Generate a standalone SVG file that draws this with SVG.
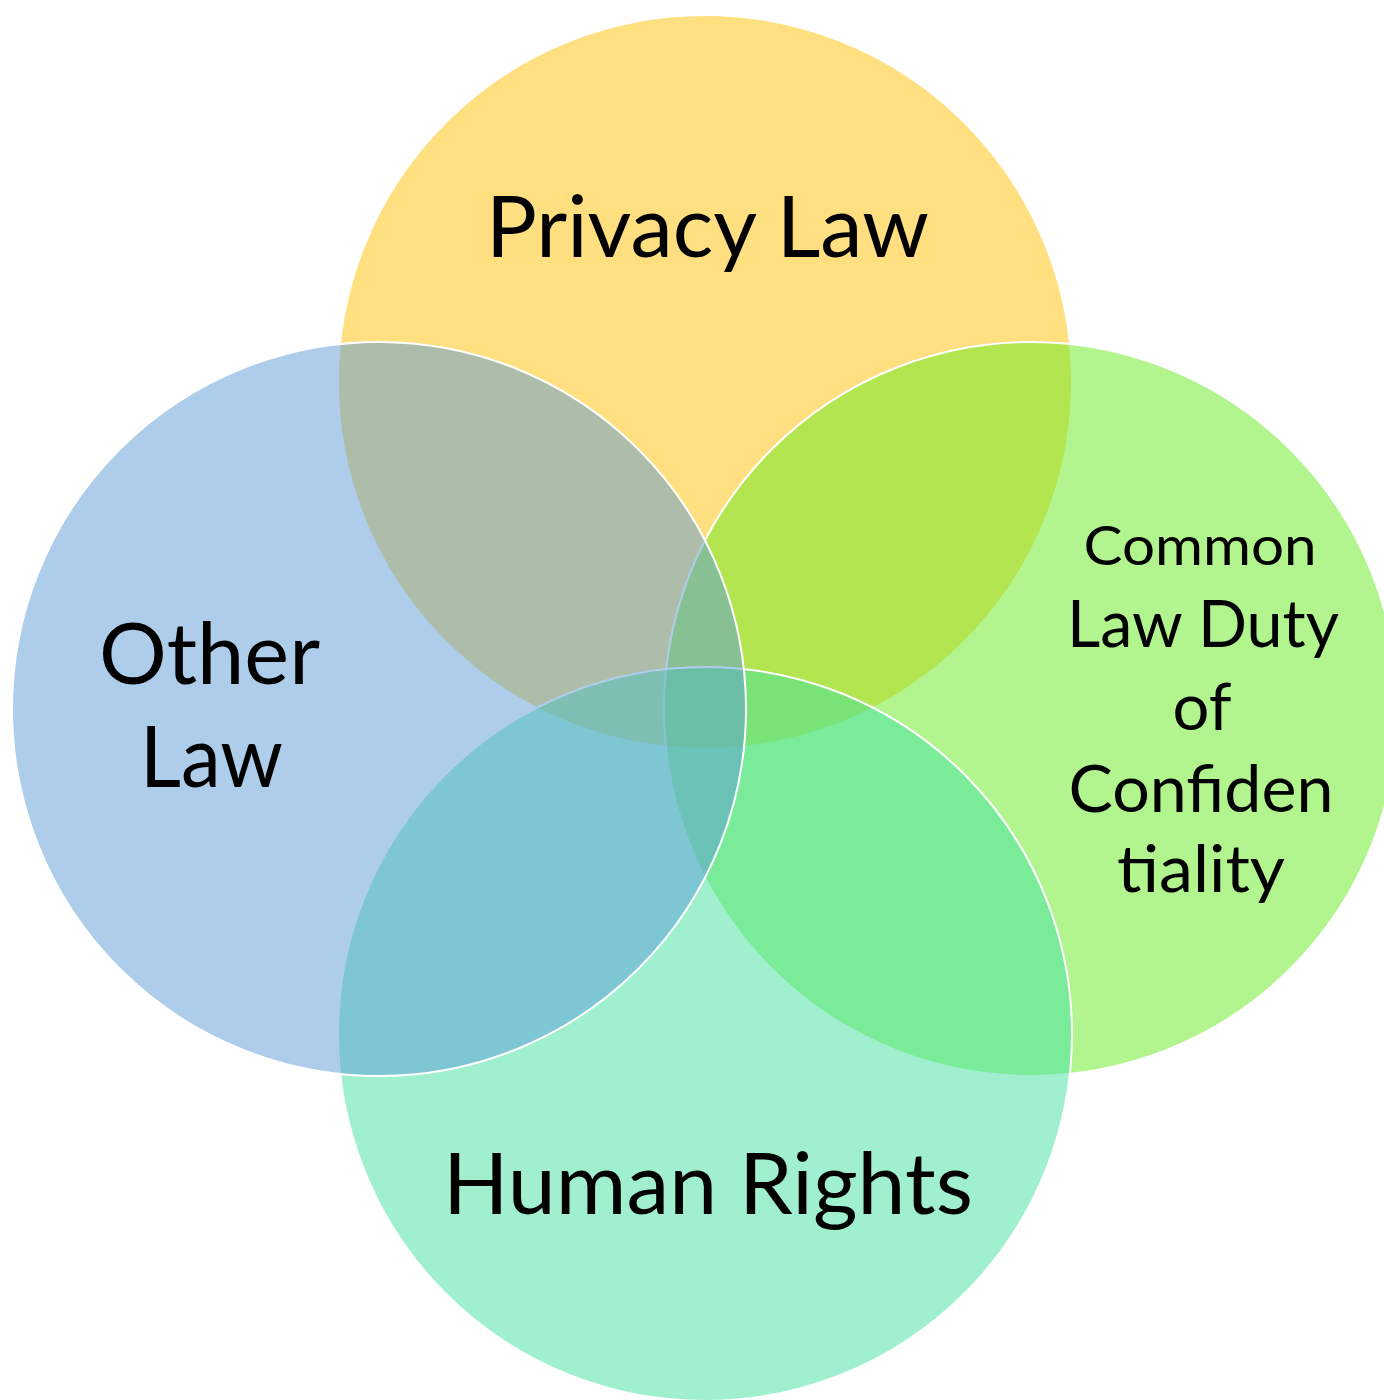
<svg xmlns="http://www.w3.org/2000/svg" width="1384" height="1400" viewBox="0 0 1384 1400">
  <style>
    .c { stroke: #FFFFFF; stroke-width: 2; fill-opacity: 0.5; }
    .t { font-family: Lato, "Open Sans", "Liberation Sans", sans-serif; fill: #000000; text-anchor: middle; }
  </style>
  <rect x="0" y="0" width="1384" height="1400" fill="#FFFFFF"/>
  <g id="privacy-law">
    <circle class="c" cx="705" cy="382" r="367" fill="#FFC000"/>
    <text class="t" x="707.5" y="257" font-size="85" textLength="443" lengthAdjust="spacingAndGlyphs">Privacy Law</text>
  </g>
  <g id="common-law-duty">
    <circle class="c" cx="1031" cy="709" r="367" fill="#66EB1F"/>
    <text class="t" x="1200" y="565" font-size="54" textLength="233" lengthAdjust="spacingAndGlyphs">Common</text>
    <text class="t" x="1203" y="647" font-size="65" textLength="272" lengthAdjust="spacingAndGlyphs">Law Duty</text>
    <text class="t" x="1202" y="730" font-size="65" textLength="59" lengthAdjust="spacingAndGlyphs">of</text>
    <text class="t" x="1201" y="812" font-size="65" textLength="265" lengthAdjust="spacingAndGlyphs">Confiden</text>
    <text class="t" x="1201" y="892" font-size="65" textLength="168" lengthAdjust="spacingAndGlyphs">tiality</text>
  </g>
  <g id="human-rights">
    <circle class="c" cx="705" cy="1034" r="367" fill="#41E1A1"/>
    <text class="t" x="708" y="1214" font-size="85" textLength="530" lengthAdjust="spacingAndGlyphs">Human Rights</text>
  </g>
  <g id="other-law">
    <circle class="c" cx="379" cy="709" r="367" fill="#5B9BD5"/>
    <text class="t" x="209.5" y="683.5" font-size="85" textLength="221" lengthAdjust="spacingAndGlyphs">Other</text>
    <text class="t" x="211.5" y="787" font-size="85" textLength="143" lengthAdjust="spacingAndGlyphs">Law</text>
  </g>
  <g id="connectors"></g>
</svg>
